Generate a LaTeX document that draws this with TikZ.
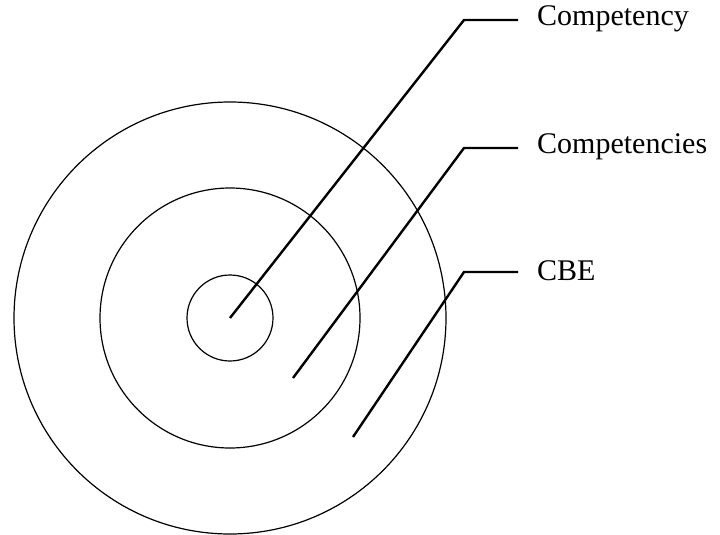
\documentclass[tikz,border=0pt]{standalone}
\usepackage{fontspec}
\setmainfont{Liberation Serif}
\usepackage{tikz}

\begin{document}
\begin{tikzpicture}[x=1pt, y=-1pt,
  ring/.style={circle, draw, line width=1.2pt, inner sep=0pt},
  leader/.style={line width=2.4pt},
  tag/.style={anchor=west, inner sep=0pt, font=\fontsize{30}{32}\selectfont}]
\useasboundingbox (0, 0) rectangle (720, 535);
\coordinate (c) at (230, 318);
\node[ring, minimum size=86pt] (core) at (c) {};
\node[ring, minimum size=260pt] (mid) at (c) {};
\node[ring, minimum size=432pt] (outer) at (c) {};
\coordinate (s1) at (230, 318);
\coordinate (s2) at (293, 378);
\coordinate (s3) at (353, 437);
\coordinate (b1) at (464, 20);
\coordinate (b2) at (464, 148);
\coordinate (b3) at (464, 272);
\coordinate (e1) at (518, 20);
\coordinate (e2) at (518, 148);
\coordinate (e3) at (518, 272);
\node[tag] (competency) at (537, 19) {Competency};
\node[tag] (competencies) at (537, 147) {Competencies};
\node[tag] (cbe) at (537, 271) {CBE};
\draw[leader] (s1) -- (b1) -- (e1);
\draw[leader] (s2) -- (b2) -- (e2);
\draw[leader] (s3) -- (b3) -- (e3);
\end{tikzpicture}
\end{document}
